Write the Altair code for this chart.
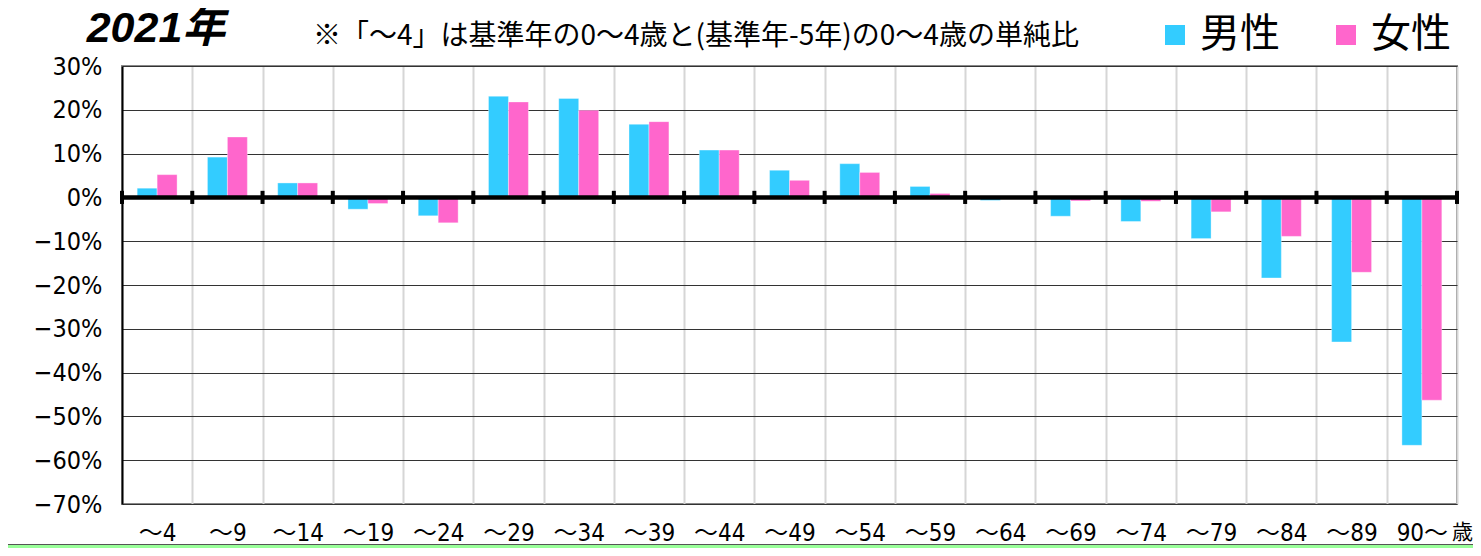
import altair as alt
import pandas as pd

ages = ["～4", "～9", "～14", "～19", "～24", "～29", "～34", "～39", "～44", "～49",
        "～54", "～59", "～64", "～69", "～74", "～79", "～84", "～89", "90～"]
male = [2.1, 9.2, 3.3, -2.7, -4.2, 23.1, 22.6, 16.7, 10.8, 6.2,
        7.7, 2.5, -0.7, -4.3, -5.5, -9.4, -18.4, -33.0, -56.6]
female = [5.2, 13.8, 3.3, -1.4, -5.8, 21.8, 19.9, 17.3, 10.8, 3.9,
          5.7, 0.9, -0.1, -0.8, -0.9, -3.3, -8.9, -17.1, -46.3]
sexes = ["男性", "女性"]
colors = ["#33CCFF", "#FF66CC"]
y_ticks = [30, 20, 10, 0, -10, -20, -30, -40, -50, -60, -70]
title_text = "2021年"
note_text = "※「～4」は基準年の0～4歳と(基準年-5年)の0～4歳の単純比"
unit_text = "歳"

W, H = 1335, 438
NUM_FONT = "Liberation Sans Narrow, DejaVu Sans Condensed, Noto Sans CJK JP, sans-serif"
JP_FONT = "Noto Sans CJK JP, sans-serif"

rows = []
for a, m, f in zip(ages, male, female):
    rows.append({"age": a, "sex": sexes[0], "value": m})
    rows.append({"age": a, "sex": sexes[1], "value": f})
df = pd.DataFrame(rows)

x_enc = alt.X("age:N", sort=ages, title=None,
              scale=alt.Scale(paddingInner=0, paddingOuter=0),
              axis=alt.Axis(labelAngle=0, labelFont=NUM_FONT, labelFontSize=24,
                            labelColor="black", labelPadding=17, ticks=False,
                            domain=False, grid=True, tickBand="extent",
                            gridColor="#d6d6d6", gridWidth=2))
y_scale = alt.Scale(domain=[-70, 30], nice=False, zero=False)

bars = alt.Chart(df).mark_bar(stroke="white", strokeWidth=0.6, strokeOpacity=0.6).encode(
    x=x_enc,
    xOffset=alt.XOffset("sex:N", sort=sexes,
                        scale=alt.Scale(paddingInner=0, paddingOuter=0.76)),
    y=alt.Y("value:Q", scale=y_scale, title=None,
            axis=alt.Axis(values=y_ticks, labelExpr="format(datum.value, 'd') + '%'",
                          labelFont=NUM_FONT, labelFontSize=25, labelColor="black",
                          labelPadding=20, ticks=False, domainColor="black",
                          domainWidth=2, gridColor="#333333", gridWidth=1)),
    color=alt.Color("sex:N", sort=sexes,
                    scale=alt.Scale(domain=sexes, range=colors),
                    legend=alt.Legend(orient="none", legendX=1033, legendY=-51,
                                      direction="horizontal", title=None,
                                      symbolType="square", symbolSize=400,
                                      symbolStrokeWidth=0, symbolOpacity=1,
                                      labelFont=JP_FONT, labelFontSize=40,
                                      labelColor="black", labelOffset=5,
                                      columnPadding=46, padding=0)),
)

zero = alt.Chart(pd.DataFrame({"v": [0]})).mark_rule(color="black", strokeWidth=4.5).encode(
    y=alt.Y("v:Q", scale=y_scale)
)

bdf = pd.DataFrame({"age": ages})
ticks0 = alt.Chart(bdf).mark_rule(color="black", strokeWidth=4).encode(
    x=alt.X("age:N", sort=ages, bandPosition=0),
    y=alt.datum(1.5), y2=alt.datum(-1.5),
)
ticks1 = alt.Chart(pd.DataFrame({"age": [ages[-1]]})).mark_rule(color="black", strokeWidth=4).encode(
    x=alt.X("age:N", sort=ages, bandPosition=1),
    y=alt.datum(1.5), y2=alt.datum(-1.5),
)

title = alt.Chart(pd.DataFrame({"t": [title_text]})).mark_text(
    font="Liberation Sans, Noto Sans CJK JP, sans-serif", fontSize=43,
    fontWeight="bold", fontStyle="italic", align="center", baseline="alphabetic",
    color="black").encode(text="t:N", x=alt.value(34), y=alt.value(-24))

note = alt.Chart(pd.DataFrame({"t": [note_text]})).mark_text(
    font=JP_FONT, fontSize=28, align="left", baseline="middle",
    color="black").encode(text="t:N", x=alt.value(191), y=alt.value(-29))

unit = alt.Chart(pd.DataFrame({"t": [unit_text]})).mark_text(
    font=JP_FONT, fontSize=21, align="left", baseline="middle",
    color="black").encode(text="t:N", x=alt.value(1330), y=alt.value(H + 29))

edge_dark = alt.Chart(pd.DataFrame({"v": [0]})).mark_rule(color="#555555", strokeWidth=1).encode(
    x=alt.value(-130), x2=alt.value(1370), y=alt.value(H + 40.5))
edge_green = alt.Chart(pd.DataFrame({"v": [0]})).mark_rule(color="#99FF99", strokeWidth=3).encode(
    x=alt.value(-130), x2=alt.value(1370), y=alt.value(H + 42.5))

chart = alt.layer(bars, zero, ticks0, ticks1, title, note, unit, edge_dark, edge_green).properties(
    width=W, height=H,
    autosize=alt.AutoSizeParams(type="none"),
    padding={"left": 114, "top": 58, "right": 16, "bottom": 44},
    background="white",
).configure_view(stroke="#888888", strokeWidth=2)

chart.save("out.html", embed_options={"renderer": "svg", "actions": False})
